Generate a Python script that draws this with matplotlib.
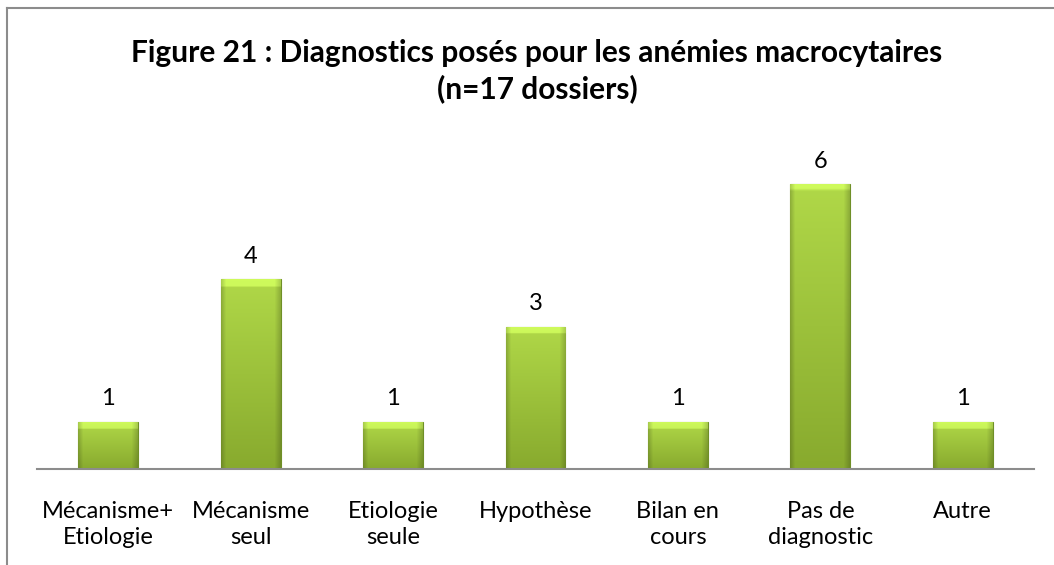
import matplotlib
matplotlib.use("Agg")
import matplotlib.pyplot as plt
import numpy as np
from matplotlib.lines import Line2D

categories = ["Mécanisme+\nEtiologie", "Mécanisme\nseul", "Etiologie\nseule", "Hypothèse",
              "Bilan en\ncours", "Pas de\ndiagnostic", "Autre"]
values = [1, 4, 1, 3, 1, 6, 1]
title = "Figure 21 : Diagnostics posés pour les anémies macrocytaires\n(n=17 dossiers)"

plt.rcParams['font.family'] = ['Lato', 'DejaVu Sans']

fig = plt.figure(figsize=(10.54, 5.65), dpi=100)
fig.add_artist(Line2D([7/1054, 7/1054], [0, 1 - 8/565], transform=fig.transFigure,
                      color='#8c8c8c', lw=1.5))
fig.add_artist(Line2D([7/1054, 1], [1 - 8/565, 1 - 8/565], transform=fig.transFigure,
                      color='#8c8c8c', lw=1.5))

ax = fig.add_axes([37/1054, 96/565, (1034-37)/1054, (469-137)/565])
x = list(range(len(values)))
bars = ax.bar(x, values, width=0.42, color='#98c043', edgecolor='#6f8f27', linewidth=0.8,
              zorder=2)

top_c = np.array([0xb0, 0xd8, 0x48]) / 255
bot_c = np.array([0x88, 0xaa, 0x2e]) / 255
for b in bars:
    bx, by, bw, bh = b.get_x(), b.get_y(), b.get_width(), b.get_height()
    ny, nx = 100, 60
    t = np.linspace(1, 0, ny)[:, None, None]
    grad = bot_c + (top_c - bot_c) * t
    grad = np.repeat(grad, nx, axis=1)
    xs = np.linspace(0, 1, nx)
    edge = 1 - 0.18 * (np.clip(1 - xs / 0.08, 0, 1) + np.clip((xs - 0.9) / 0.1, 0, 1))
    img = grad * edge[None, :, None]
    px_per_unit = 47.4
    bev = max(1, int(ny * 8 / (bh * px_per_unit)))
    img[:bev] = np.clip(img[:bev] * 1.1 + 0.05, 0, 1)
    im = ax.imshow(img, extent=(bx, bx + bw, by, by + bh), aspect='auto', zorder=3,
                   interpolation='bilinear')
    im.set_clip_path(b)

for xi, v in zip(x, values):
    ax.text(xi, v + 0.26, str(v), ha='center', va='bottom', fontsize=17, color='#000000')

ax.set_xlim(-0.5, len(values) - 0.5)
ax.set_ylim(0, 7)
ax.set_xticks(x)
ax.set_xticklabels(categories, fontsize=17, linespacing=1.32)
ax.tick_params(axis='x', length=0, pad=23)
ax.set_yticks([])
for s in ['top', 'right', 'left']:
    ax.spines[s].set_visible(False)
ax.spines['bottom'].set_color('#8c8c8c')
ax.spines['bottom'].set_linewidth(1.5)
ax.spines['bottom'].set_zorder(4)

fig.text(0.5095, 1 - 71/565, title, ha='center', va='center', fontsize=21.5, fontweight='bold',
         linespacing=1.27)

fig.savefig("out.png", dpi=100)
